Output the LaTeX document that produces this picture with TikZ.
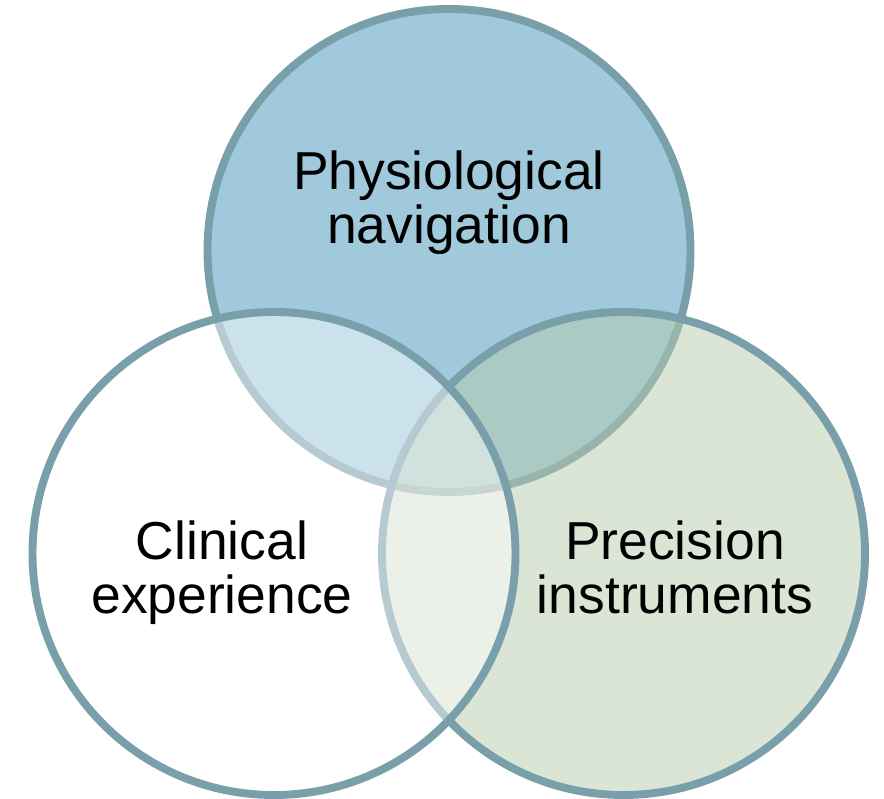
\documentclass[tikz,border=0pt]{standalone}
\usepackage{fontspec}
\setmainfont{Liberation Sans}
\usepackage{tikz}
\usetikzlibrary{positioning}

\definecolor{vennline}{RGB}{121,159,170}
\definecolor{physfill}{RGB}{160,201,220}
\definecolor{precfill}{RGB}{183,203,172}

\tikzset{
    venn/.style={circle, draw=vennline, line width=4.5pt, minimum size=9.66cm, inner sep=0pt},
    lbl/.style={align=center, font=\fontsize{30.4}{31}\selectfont, text=black}
}

\begin{document}
\begin{tikzpicture}
            \useasboundingbox (0,0) rectangle (17.68,15.96);

            % Circles (top first, then right, then left on top)
            \node[venn, fill=physfill] (phys) at (8.98,10.95) {};
            \node[venn, fill=precfill, fill opacity=0.5] (prec) at (12.47,4.89) {};
            \node[venn, fill=white, fill opacity=0.46] (clin) at (5.48,4.89) {};

            % Labels
            \node[lbl] (physlbl) at (8.98,11.91) {Physiological\\navigation};
            \node[lbl] (clinlbl) at (4.44,4.51) {Clinical\\experience};
            \node[lbl] (preclbl) at (13.50,4.61) {Precision\\instruments};

        \end{tikzpicture}
\end{document}
